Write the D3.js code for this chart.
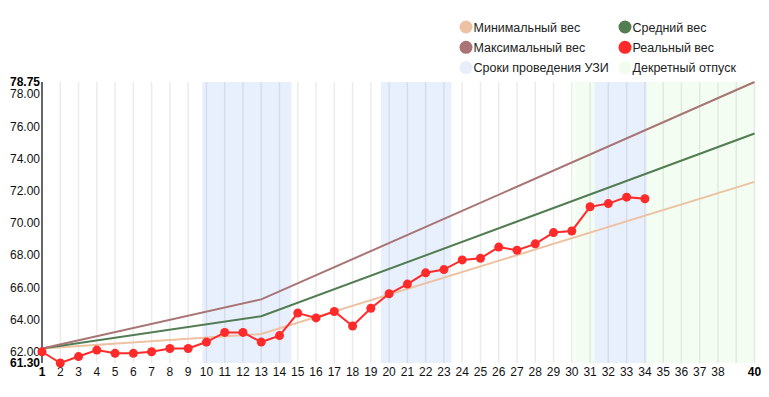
<!DOCTYPE html>
<html>
<head>
<meta charset="utf-8">
<script src="https://cdn.jsdelivr.net/npm/d3@7"></script>
<style>
  body { margin: 0; background: #fff; }
  svg { display: block; font-family: Arial, "Liberation Sans", sans-serif; }
</style>
</head>
<body>
<div id="chart"></div>
<script>
// weeks of pregnancy and measured weight
const realWeeks = d3.range(1, 35);
const realWeight = [62.0, 61.3, 61.7, 62.1, 61.9, 61.9, 62.0, 62.2, 62.2, 62.6,
                    63.2, 63.2, 62.6, 63.0, 64.4, 64.1, 64.5, 63.6, 64.7, 65.6,
                    66.2, 66.9, 67.1, 67.7, 67.8, 68.5, 68.3, 68.7, 69.4, 69.5,
                    71.0, 71.2, 71.6, 71.5];

// norm lines, read at the break points
const normWeeks = [1, 13, 40];
const minWeight = [62.2, 63.1, 72.55];
const avgWeight = [62.2, 64.2, 75.55];
const maxWeight = [62.2, 65.25, 78.75];

// shaded periods (in weeks)
const uziPeriods = [[9.77, 14.65], [19.55, 23.4], [31.25, 34.1]];
const leavePeriods = [[30.15, 40]];

const xTicks = d3.range(2, 39);
const xBounds = [1, 40];
const yTicks = [62, 64, 66, 68, 70, 72, 74, 76, 78];
const yBounds = [61.3, 78.75];

const legendItems = [
    { label: "Минимальный вес", color: "#ecc2a2" },
    { label: "Средний вес", color: "#527c52" },
    { label: "Максимальный вес", color: "#a87474" },
    { label: "Реальный вес", color: "#ff2a2a" },
    { label: "Сроки проведения УЗИ", color: "#e8eefd" },
    { label: "Декретный отпуск", color: "#f0fdee" }
];

const width = 769, height = 397;
const plotLeft = 42, plotRight = 754.5, plotTop = 82, plotBottom = 363;

const x = d3.scaleLinear().domain([1, 40]).range([plotLeft, plotRight]);
const y = d3.scaleLinear().domain(yBounds).range([plotBottom, plotTop]);

const svg = d3.select("#chart").append("svg")
    .attr("width", width)
    .attr("height", height);

// periods
svg.append("g").selectAll("rect")
    .data(leavePeriods)
    .join("rect")
    .attr("x", d => x(d[0]))
    .attr("width", d => x(d[1]) - x(d[0]))
    .attr("y", plotTop).attr("height", plotBottom - plotTop)
    .attr("fill", "#f3fdf1");

svg.append("g").selectAll("rect")
    .data(uziPeriods)
    .join("rect")
    .attr("x", d => x(d[0]))
    .attr("width", d => x(d[1]) - x(d[0]))
    .attr("y", plotTop).attr("height", plotBottom - plotTop)
    .attr("fill", "#e9f0fd");

// grid
svg.append("g").selectAll("line")
    .data(d3.range(1, 41))
    .join("line")
    .attr("x1", d => x(d)).attr("x2", d => x(d))
    .attr("y1", plotTop).attr("y2", plotBottom)
    .attr("stroke", "#000")
    .attr("stroke-opacity", 0.08)
    .attr("stroke-width", 1.5);

// y axis
svg.append("line")
    .attr("x1", plotLeft).attr("x2", plotLeft)
    .attr("y1", plotTop).attr("y2", plotBottom)
    .attr("stroke", "#666").attr("stroke-width", 2);

const yAxis = svg.append("g").attr("font-size", 12);
yAxis.selectAll("text.tick")
    .data(yTicks)
    .join("text")
    .attr("class", "tick")
    .attr("x", 40).attr("y", d => y(d)).attr("dy", "0.36em")
    .attr("text-anchor", "end")
    .attr("fill", "#111")
    .text(d => d3.format(".2f")(d));
yAxis.selectAll("text.bound")
    .data(yBounds)
    .join("text")
    .attr("class", "bound")
    .attr("x", 40).attr("y", d => y(d)).attr("dy", "0.36em")
    .attr("text-anchor", "end")
    .attr("font-weight", "bold")
    .attr("fill", "#000")
    .text(d => d3.format(".2f")(d));

// x axis labels
const xAxis = svg.append("g").attr("font-size", 12);
xAxis.selectAll("text.tick")
    .data(xTicks)
    .join("text")
    .attr("class", "tick")
    .attr("x", d => x(d)).attr("y", 376)
    .attr("text-anchor", "middle")
    .attr("fill", "#111")
    .text(d => d);
xAxis.selectAll("text.bound")
    .data(xBounds)
    .join("text")
    .attr("class", "bound")
    .attr("x", d => x(d)).attr("y", 376)
    .attr("text-anchor", "middle")
    .attr("font-weight", "bold")
    .attr("fill", "#000")
    .text(d => d);

// norm lines
const line = d3.line()
    .x(d => x(d[0]))
    .y(d => y(d[1]));

[[minWeight, legendItems[0].color], [avgWeight, legendItems[1].color], [maxWeight, legendItems[2].color]]
    .forEach(([vals, color]) => {
        svg.append("path")
            .datum(d3.zip(normWeeks, vals))
            .attr("d", line)
            .attr("fill", "none")
            .attr("stroke", color)
            .attr("stroke-width", 2);
    });

// real weight
const real = d3.zip(realWeeks, realWeight);
svg.append("path")
    .datum(real)
    .attr("d", line)
    .attr("fill", "none")
    .attr("stroke", "#ff2a2a")
    .attr("stroke-width", 2);

svg.append("g").selectAll("circle")
    .data(real)
    .join("circle")
    .attr("cx", d => x(d[0]))
    .attr("cy", d => y(d[1]))
    .attr("r", 4.5)
    .attr("fill", "#ff2a2a");

// legend
const legend = svg.append("g")
    .selectAll("g")
    .data(legendItems)
    .join("g")
    .attr("transform", (d, i) => `translate(${i % 2 ? 625 : 466},${27 + Math.floor(i / 2) * 20.3})`);

legend.append("circle")
    .attr("r", 6.5)
    .attr("fill", d => d.color);

legend.append("text")
    .attr("x", 7.5)
    .attr("dy", "0.36em")
    .attr("font-size", 12.5)
    .attr("fill", "#222")
    .text(d => d.label);
</script>
</body>
</html>
